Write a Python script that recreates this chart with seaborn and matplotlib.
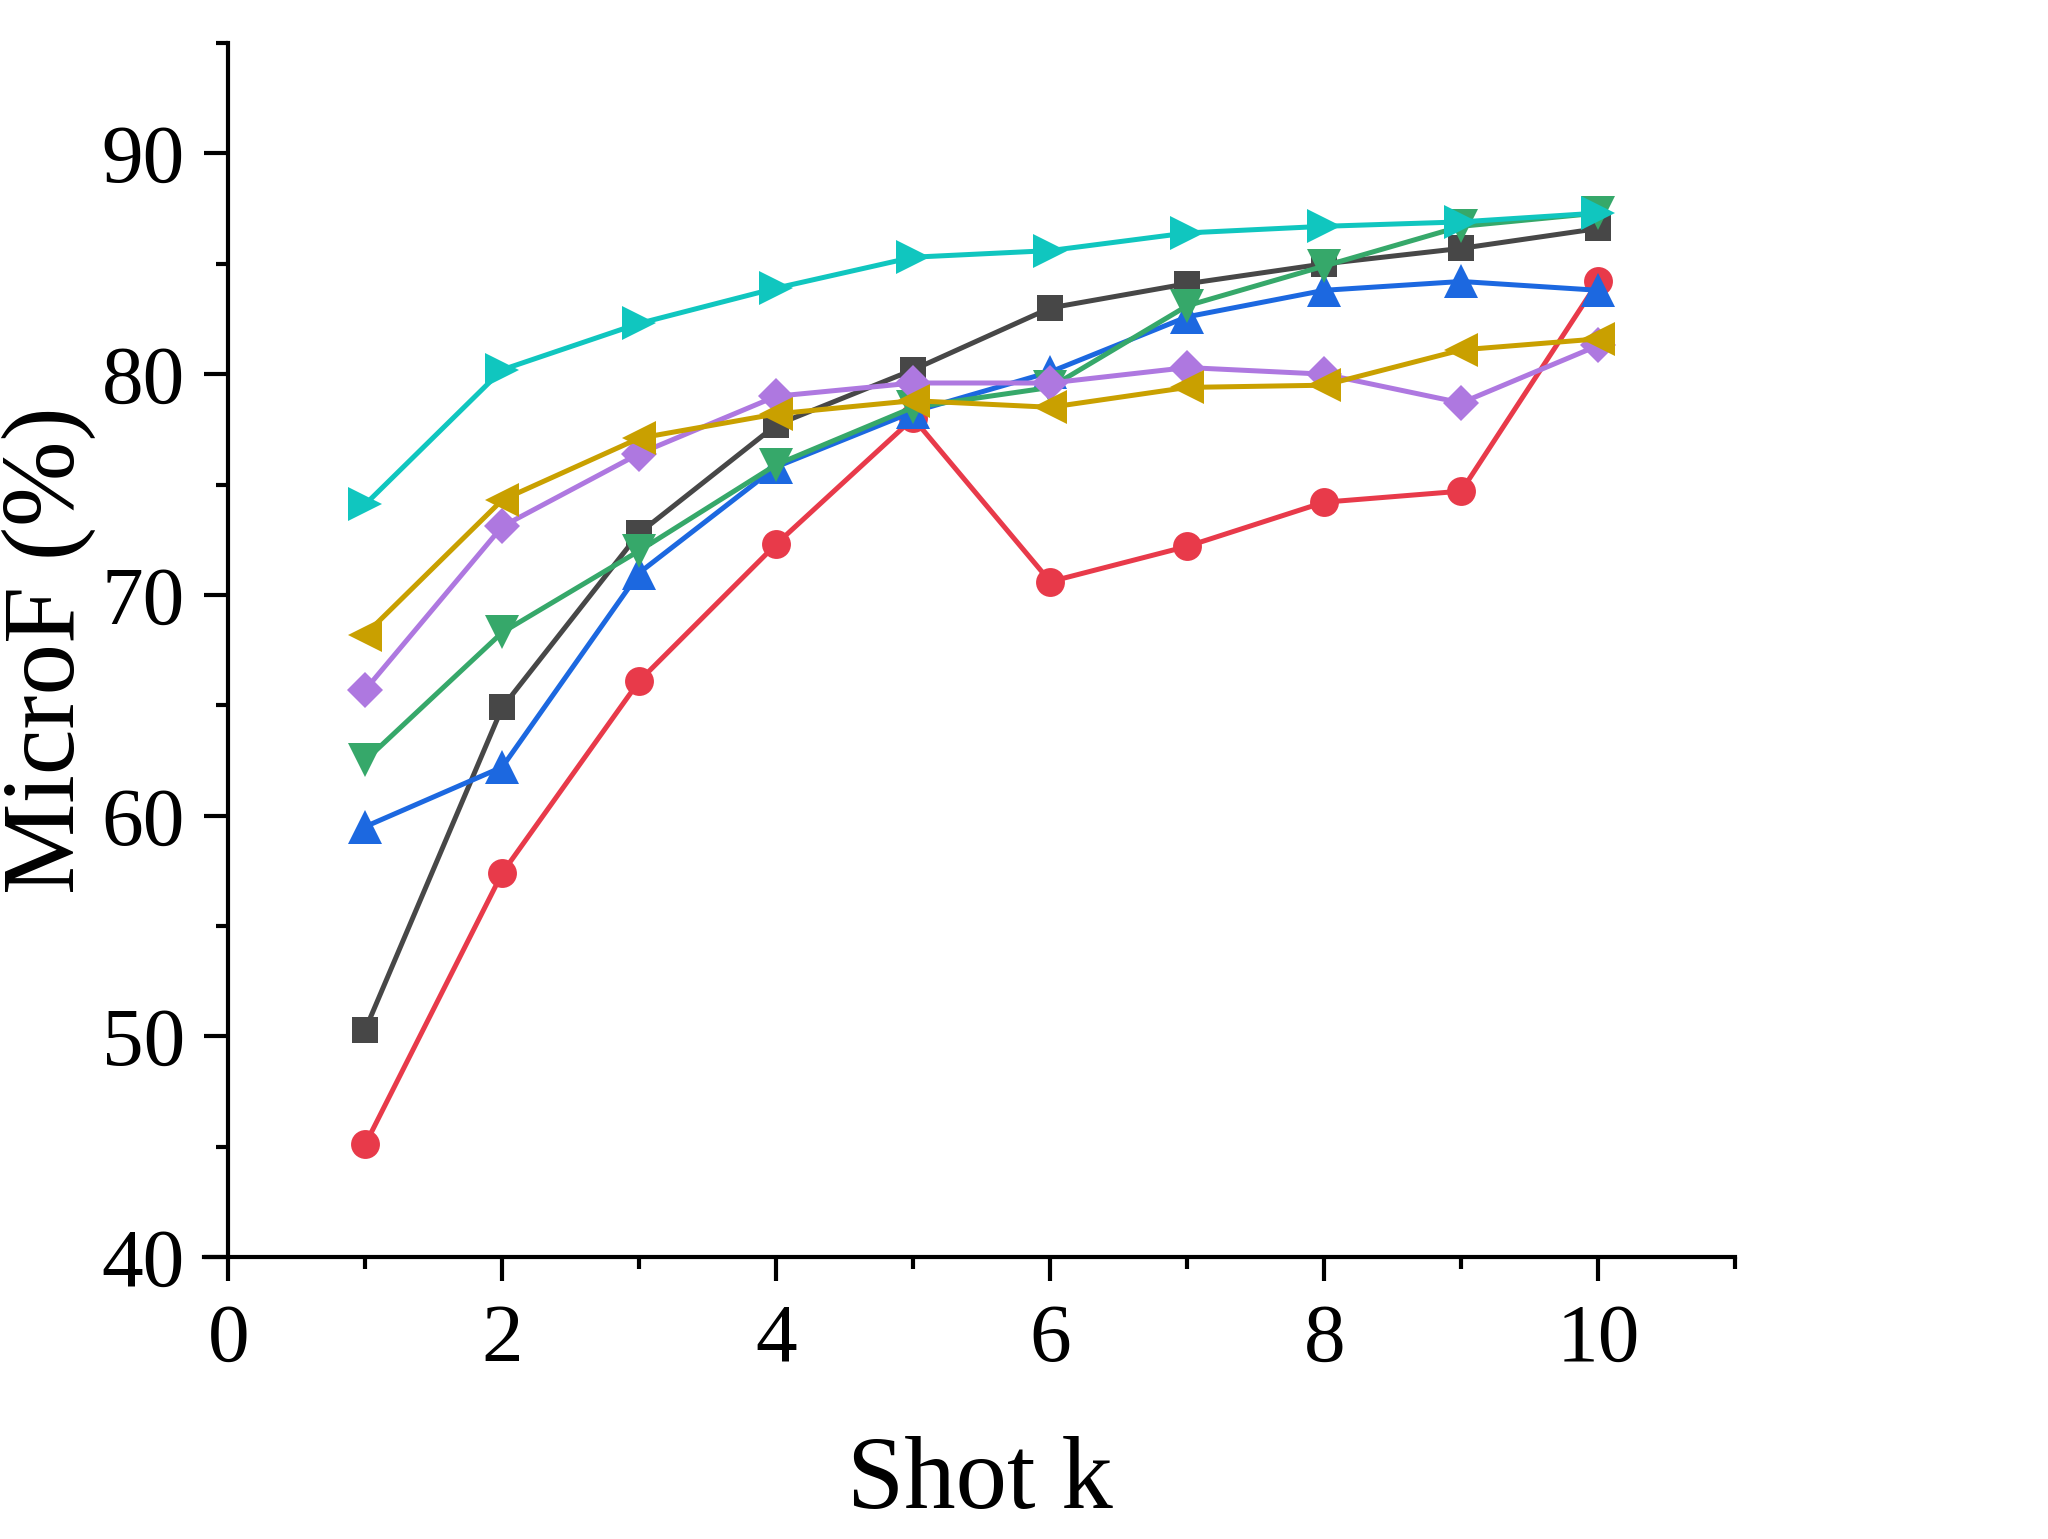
import matplotlib
matplotlib.use("Agg")
import matplotlib.pyplot as plt
import seaborn as sns
import pandas as pd
from matplotlib.ticker import MultipleLocator

shots = [1, 2, 3, 4, 5, 6, 7, 8, 9, 10]

s_black = [50.3, 64.9, 72.8, 77.7, 80.2, 83.0, 84.1, 85.0, 85.7, 86.6]
s_red = [45.1, 57.4, 66.1, 72.3, 78.0, 70.6, 72.2, 74.2, 74.7, 84.2]
s_blue = [59.5, 62.2, 71.0, 75.8, 78.3, 80.1, 82.6, 83.8, 84.2, 83.8]
s_green = [62.5, 68.3, 72.0, 75.9, 78.5, 79.4, 83.1, 84.9, 86.7, 87.3]
s_purple = [65.7, 73.1, 76.4, 79.0, 79.6, 79.6, 80.3, 80.0, 78.7, 81.3]
s_gold = [68.2, 74.3, 77.1, 78.2, 78.8, 78.5, 79.4, 79.5, 81.1, 81.6]
s_cyan = [74.1, 80.2, 82.3, 83.9, 85.3, 85.6, 86.4, 86.7, 86.9, 87.3]

series_names = ["black", "red", "blue", "green", "purple", "gold", "cyan"]
series_values = [s_black, s_red, s_blue, s_green, s_purple, s_gold, s_cyan]
colors = ["#474747", "#e83a4a", "#1c68e0", "#36a86a", "#ae78e0", "#c9a000", "#10c6bf"]
markers = ["s", "o", "^", "v", "D", "<", ">"]
msizes = [9.2, 10.4, 12.0, 12.0, 9.2, 12.0, 12.0]

x_major = [0, 2, 4, 6, 8, 10]
y_major = [40, 50, 60, 70, 80, 90]

sns.set_theme(style="ticks")
plt.rcParams["font.family"] = ["Liberation Serif", "DejaVu Serif"]
plt.rcParams["text.color"] = "black"
plt.rcParams["axes.labelcolor"] = "black"

fig = plt.figure(figsize=(10.24, 7.695), dpi=200)
ax = fig.add_axes([0.0994, 0.1832, 0.7479, 0.7888])

for name, vals, c, m, ms in zip(series_names, series_values, colors, markers, msizes):
    df = pd.DataFrame({"shot": shots, "val": vals})
    sns.lineplot(data=df, x="shot", y="val", ax=ax, color=c, marker=m,
                 markersize=ms, markeredgewidth=0, linewidth=1.8, legend=False)

ax.set_xlim(-0.18, 11)
ax.set_ylim(40, 95)
ax.spines["left"].set_position(("data", 0))
ax.spines["right"].set_visible(False)
ax.spines["top"].set_visible(False)
for sp in ["left", "bottom"]:
    ax.spines[sp].set_linewidth(1.5)
    ax.spines[sp].set_color("black")

ax.set_xticks(x_major)
ax.set_yticks(y_major)
ax.xaxis.set_minor_locator(MultipleLocator(1))
ax.yaxis.set_minor_locator(MultipleLocator(5))
ax.tick_params(which="major", direction="out", length=8.6, width=1.5, colors="black",
               labelsize=30, pad=7, labelcolor="black")
ax.tick_params(which="minor", direction="out", length=4.3, width=1.5, colors="black")
ax.tick_params(axis="x", which="major", pad=8)

ax.set_xlabel("Shot k", fontsize=37, va="baseline", color="black")
ax.set_ylabel("MicroF (%)", fontsize=37, va="center", color="black")
ax.xaxis.set_label_coords(0.507, -0.207)
ax.yaxis.set_label_coords(-0.101, 0.5)

fig.savefig("out.png", dpi=200, facecolor="white")
